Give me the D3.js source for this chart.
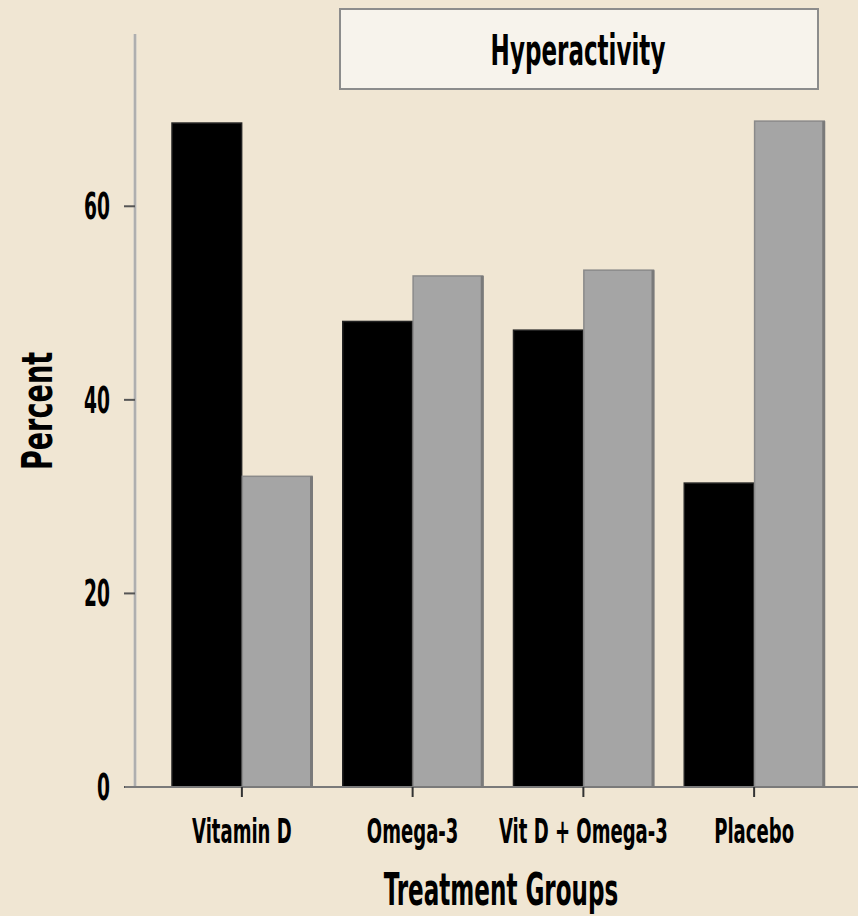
<!DOCTYPE html>
<html>
<head>
<meta charset="utf-8">
<script src="https://cdn.jsdelivr.net/npm/d3@7"></script>
<style>
  html, body { margin: 0; padding: 0; background: #f0e6d3; }
  svg text { font-family: "DejaVu Sans Condensed", "DejaVu Sans", sans-serif; font-weight: bold; fill: #000; }
</style>
</head>
<body>
<div id="chart"></div>
<script>
const groups = ["Vitamin D", "Omega-3", "Vit D + Omega-3", "Placebo"];
const series = ["a", "b"];
const blackValues = [68.6, 48.1, 47.2, 31.4];
const grayValues = [32.1, 52.8, 53.4, 68.8];
const yTicks = [0, 20, 40, 60];
const title = "Hyperactivity";
const xTitle = "Treatment Groups";
const yTitle = "Percent";

const width = 858, height = 916;
const colors = { a: "#000000", b: "#a5a5a5" };

const svg = d3.select("#chart").append("svg")
    .attr("width", width)
    .attr("height", height);

svg.append("rect").attr("width", width).attr("height", height).attr("fill", "#f0e6d3");

const y = d3.scaleLinear().domain([0, 77.8]).range([787, 34]);
const x0 = d3.scaleBand().domain(groups).range([156.5, 839.5]).padding(0);
const x1 = d3.scaleBand().domain(series).range([15.5, 155.5]).paddingInner(0.01);

// condensed text helper
function label(sel, txt, tx, ty, size, sx, anchor, rot) {
  return sel.append("text")
      .attr("transform", "translate(" + tx + "," + ty + ")" + (rot ? "rotate(" + rot + ")" : "") + "scale(" + sx + ",1)")
      .attr("text-anchor", anchor || "middle")
      .style("font-size", size + "px")
      .text(txt);
}

// y axis
svg.append("line")
    .attr("x1", 135).attr("x2", 135)
    .attr("y1", y.range()[1]).attr("y2", y(0))
    .attr("stroke", "#c4c4c4").attr("stroke-width", 3);
svg.append("line")
    .attr("x1", 135).attr("x2", 135)
    .attr("y1", y.range()[1]).attr("y2", y(0))
    .attr("stroke", "#999").attr("stroke-width", 1);
yTicks.forEach(v => {
  svg.append("line")
      .attr("x1", 124).attr("x2", 135)
      .attr("y1", y(v)).attr("y2", y(v))
      .attr("stroke", "#555").attr("stroke-width", 2);
  label(svg, v, 110, y(v) + 13, 37, 0.56, "end");
});

// bars
const data = groups.map((g, i) => ({ group: g, a: blackValues[i], b: grayValues[i] }));
const g = svg.selectAll("g.grp")
    .data(data)
    .enter().append("g")
    .attr("class", "grp")
    .attr("transform", d => "translate(" + x0(d.group) + ",0)");

g.selectAll("rect.bar")
    .data(d => series.map(k => ({ key: k, value: d[k] })))
    .enter().append("rect")
    .attr("class", "bar")
    .attr("x", d => x1(d.key))
    .attr("y", d => y(d.value))
    .attr("width", x1.bandwidth())
    .attr("height", d => y(0) - y(d.value))
    .attr("fill", d => colors[d.key])
    .attr("stroke", d => d.key === "b" ? "#8a8a8a" : "#222")
    .attr("stroke-width", 1.5);

// darker right edge on gray bars
g.selectAll("rect.edge")
    .data(d => [{ key: "b", value: d.b }])
    .enter().append("rect")
    .attr("class", "edge")
    .attr("x", d => x1(d.key) + x1.bandwidth() - 2)
    .attr("y", d => y(d.value))
    .attr("width", 3)
    .attr("height", d => y(0) - y(d.value))
    .attr("fill", "#7a7a7a");

// x axis
svg.append("line")
    .attr("x1", 125).attr("x2", width)
    .attr("y1", y(0)).attr("y2", y(0))
    .attr("stroke", "#7a7a7a").attr("stroke-width", 2);
groups.forEach(grp => {
  const cx = x0(grp) + x0.bandwidth() / 2;
  svg.append("line")
      .attr("x1", cx).attr("x2", cx)
      .attr("y1", y(0)).attr("y2", y(0) + 10)
      .attr("stroke", "#333").attr("stroke-width", 2);
  label(svg, grp, cx, 843, 34, 0.59, "middle");
});

// axis titles
label(svg, xTitle, 501, 905, 45, 0.57, "middle");
label(svg, yTitle, 52, 411, 43, 0.70, "middle", -90);

// title box
svg.append("rect")
    .attr("x", 340).attr("y", 9)
    .attr("width", 478).attr("height", 80)
    .attr("fill", "#f7f3ec")
    .attr("stroke", "#8c8c8c").attr("stroke-width", 2);
label(svg, title, 578, 65, 42, 0.61, "middle");
</script>
</body>
</html>
